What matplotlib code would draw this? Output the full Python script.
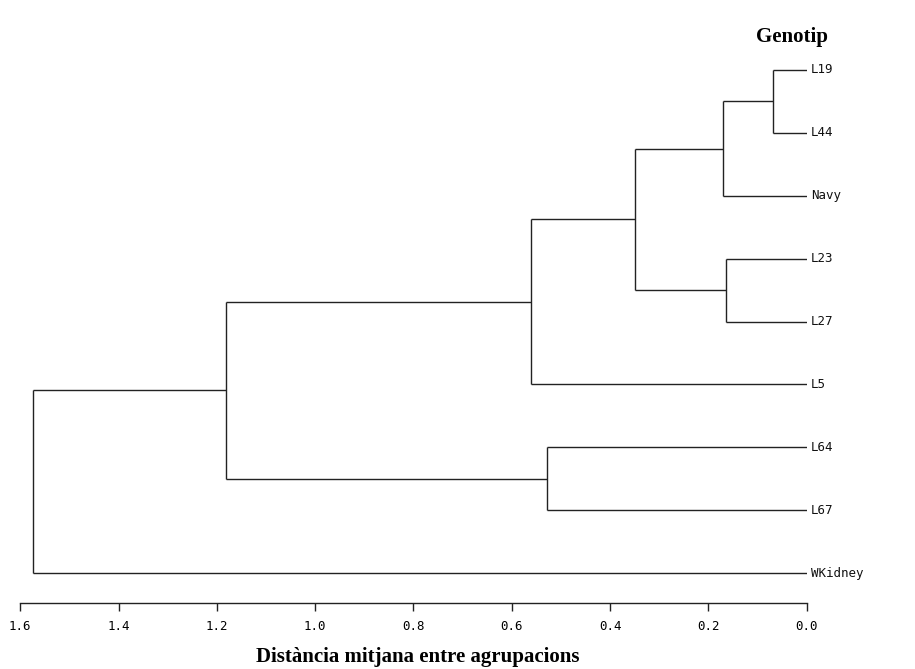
import numpy as np
import matplotlib.pyplot as plt

# fulles del dendrograma (de dalt a baix)
genotips = ['L19', 'L44', 'Navy', 'L23', 'L27', 'L5', 'L64', 'L67', 'WKidney']

# unions: (fill a, fill b, distancia). index >= 9 -> nodes nous
unions = [
    (0, 1, 0.068),     # 9  : L19 + L44
    (9, 2, 0.171),     # 10 : + Navy
    (3, 4, 0.164),     # 11 : L23 + L27
    (10, 11, 0.349),   # 12
    (12, 5, 0.561),    # 13 : + L5
    (6, 7, 0.528),     # 14 : L64 + L67
    (13, 14, 1.181),   # 15
    (15, 8, 1.574),    # 16 : + WKidney
]

ticks = [1.6, 1.4, 1.2, 1.0, 0.8, 0.6, 0.4, 0.2, 0.0]
tick_labels = ['1.6', '1.4', '1.2', '1.0', '0.8', '0.6', '0.4', '0.2', '0.0']

n = len(genotips)
pos_y = {i: n - 1 - i for i in range(n)}
pos_x = {i: 0.0 for i in range(n)}

fig = plt.figure(figsize=(9.15, 6.69), dpi=100)
W, H = 915, 669
x0, x1 = 20.2, 806.7
ytop, ybot = 40, 603
ax = fig.add_axes([x0 / W, (H - ybot) / H, (x1 - x0) / W, (ybot - ytop) / H])

color = '#222222'
for k, (a, b, d) in enumerate(unions):
    node = n + k
    ya, yb = pos_y[a], pos_y[b]
    ax.plot([pos_x[a], d], [ya, ya], color=color, lw=1.0, solid_capstyle='butt')
    ax.plot([pos_x[b], d], [yb, yb], color=color, lw=1.0, solid_capstyle='butt')
    ax.plot([d, d], [ya, yb], color=color, lw=1.0, solid_capstyle='butt')
    pos_x[node] = d
    pos_y[node] = (ya + yb) / 2.0

for i, nom in enumerate(genotips):
    ax.text(-0.008, pos_y[i], nom, ha='left', va='center',
            family='DejaVu Sans Mono', fontsize=9, color='#111111')

ax.set_xlim(1.6, 0.0)
pas = 62.9  # pixels entre fulles
ax.set_ylim(-(ybot - 573) / pas, 8 + (70 - ytop) / pas)

for s in ['top', 'right', 'left']:
    ax.spines[s].set_visible(False)
ax.spines['bottom'].set_color(color)
ax.spines['bottom'].set_linewidth(1.0)
ax.set_yticks([])
ax.set_xticks(ticks)
ax.set_xticklabels(tick_labels, family='DejaVu Sans Mono', fontsize=9)
ax.tick_params(axis='x', direction='out', length=6, width=1.0, color=color, pad=6)

fig.text(792 / W, 1 - 37 / H, 'Genotip', ha='center', va='center',
         family='Liberation Serif', fontweight='bold', fontsize=15)
fig.text(418 / W, 1 - 657 / H, 'Distància mitjana entre agrupacions', ha='center', va='center',
         family='Liberation Serif', fontweight='bold', fontsize=15)

fig.savefig('out.png', dpi=100, facecolor='white')
